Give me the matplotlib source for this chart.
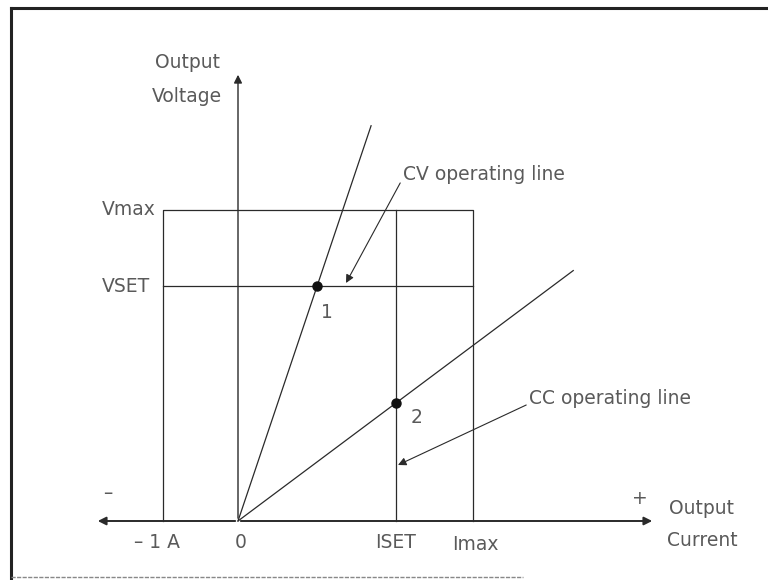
import matplotlib.pyplot as plt

# diagram units: 1 unit = 75 px, origin where the two axes cross
I_NEG = -1.0        # -1 A
I_SET = 2.10
I_MAX = 3.13
V_SET = 3.13
V_MAX = 4.15

CV_SLOPE = 2.97     # V per unit I of the CV load line
CC_SLOPE = 0.747    # V per unit I of the CC load line
CV_END_V = 5.27
CC_END_I = 4.47

INK = '#2a2a2a'
TXT = '#5a5a5a'

fig = plt.figure(figsize=(7.68, 5.8), dpi=100)
ax = fig.add_axes([0, 0, 1, 1])
ax.set_xlim(-238 / 75, 530 / 75)
ax.set_ylim(-59 / 75, 521 / 75)
ax.axis('off')

# page frame (scan border)
left = -227 / 75
ax.plot([left, left], [-57 / 75, 513 / 75], color='#222', lw=2.2)
ax.plot([left, 530 / 75], [513 / 75, 513 / 75], color='#222', lw=2.2)
ax.plot([left, 285 / 75], [-56 / 75, -56 / 75], color='#888', lw=1, ls=(0, (3, 1)))

fnt = dict(family='DejaVu Sans', fontsize=13.5, color=TXT)

# axes arrows
ax.annotate('', xy=(0, 449 / 75), xytext=(0, 0),
            arrowprops=dict(arrowstyle='-|>', color=INK, lw=1.0, mutation_scale=12))
ax.annotate('', xy=(-143 / 75, 0), xytext=(0, 0),
            arrowprops=dict(arrowstyle='-|>', color=INK, lw=1.4, mutation_scale=12))
ax.annotate('', xy=(417 / 75, 0), xytext=(0, 0),
            arrowprops=dict(arrowstyle='-|>', color=INK, lw=1.4, mutation_scale=12))

# operating rectangle
ax.plot([I_NEG, I_NEG, I_MAX, I_MAX], [0, V_MAX, V_MAX, 0], color=INK, lw=0.9)
ax.plot([I_NEG, I_MAX], [V_SET, V_SET], color=INK, lw=0.9)
ax.plot([I_SET, I_SET], [0, V_MAX], color=INK, lw=0.9)

# load lines
ax.plot([0, CV_END_V / CV_SLOPE], [0, CV_END_V], color=INK, lw=0.9)
ax.plot([0, CC_END_I], [0, CC_END_I * CC_SLOPE], color=INK, lw=0.9)

# operating points
p1 = (V_SET / CV_SLOPE, V_SET)
p2 = (I_SET, I_SET * CC_SLOPE)
ax.plot(*p1, 'o', color='#111', ms=6.5)
ax.plot(*p2, 'o', color='#111', ms=6.5)
ax.text(p1[0] + 0.13, p1[1] - 0.35, '1', ha='center', va='center', **fnt)
ax.text(p2[0] + 0.28, p2[1] - 0.19, '2', ha='center', va='center', **fnt)

# callouts
ax.annotate('CV operating line', xy=(108 / 75, 238 / 75), xytext=(165 / 75, 347 / 75),
            ha='left', va='center', **fnt,
            arrowprops=dict(arrowstyle='-|>', color=INK, lw=0.8, mutation_scale=12,
                            shrinkA=0, shrinkB=0, relpos=(0, 0.3)))
ax.annotate('CC operating line', xy=(160 / 75, 56 / 75), xytext=(291 / 75, 123 / 75),
            ha='left', va='center', **fnt,
            arrowprops=dict(arrowstyle='-|>', color=INK, lw=0.8, mutation_scale=12,
                            shrinkA=0, shrinkB=0, relpos=(0, 0.2)))

# axis labels
ax.text(-51 / 75, 459 / 75, 'Output', ha='center', va='center', **fnt)
ax.text(-51 / 75, 425 / 75, 'Voltage', ha='center', va='center', **fnt)
ax.text(464 / 75, 12 / 75, 'Output', ha='center', va='center', **fnt)
ax.text(464 / 75, -19 / 75, 'Current', ha='center', va='center', **fnt)
ax.text(-82 / 75, V_MAX, 'Vmax', ha='right', va='center', **fnt)
ax.text(-88 / 75, V_SET, 'VSET', ha='right', va='center', **fnt)
ax.text(-130 / 75, 28 / 75, '\u2013', ha='center', va='center', **fnt)
ax.text(402 / 75, 23 / 75, '+', ha='center', va='center', **fnt)
ax.text(I_NEG - 0.08, -21 / 75, '\u2013 1 A', ha='center', va='center', **fnt)
ax.text(0.03, -21 / 75, '0', ha='center', va='center', **fnt)
ax.text(I_SET, -21 / 75, 'ISET', ha='center', va='center', **fnt)
ax.text(I_MAX + 0.04, -24 / 75, 'Imax', ha='center', va='center', **fnt)

fig.savefig('out.png', dpi=100)
